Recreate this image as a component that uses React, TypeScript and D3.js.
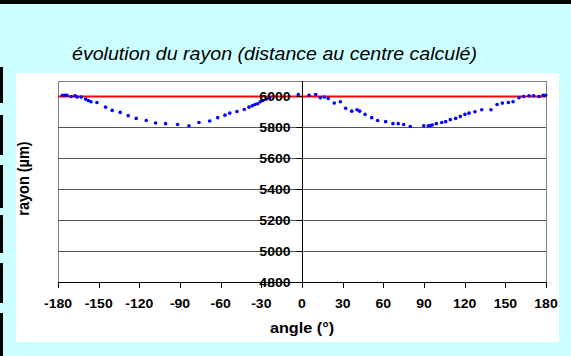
import React from "react";
import * as d3 from "d3";

const title = "évolution du rayon (distance au centre calculé)";
const xTitle = "angle (°)";
const yTitle = "rayon (µm)";

const xTicks = [-180, -150, -120, -90, -60, -30, 0, 30, 60, 90, 120, 150, 180];
const yTicks = [4800, 5000, 5200, 5400, 5600, 5800, 6000];
const reference = 6000;

const angles = [
  -176.8, -174.8, -173.4, -170.3, -167.4, -165.9, -162.9, -159.6, -157.7, -155.7,
  -151.3, -144.9, -140.0, -134.1, -128.2, -122.3, -114.9, -108.0, -100.6, -91.8,
  -83.4, -76.0, -68.1, -62.2, -56.8, -53.3, -48.0, -42.6, -39.1, -36.7,
  -34.7, -32.7, -30.8, -28.8, -26.3, -23.8, -2.7,
  5.2, 10.1, 13.5, 16.5, 19.4, 23.8, 28.3, 32.2, 36.7, 40.6, 42.6, 46.5, 51.4,
  55.8, 61.7, 67.1, 71.0, 75.0, 79.9, 89.8, 93.2, 94.6, 96.1, 99.1, 103.1,
  106.0, 109.4, 113.4, 116.8, 120.2, 123.2, 127.6, 132.6, 139.4, 143.9, 147.8,
  152.2, 155.7, 160.1, 163.5, 167.5, 170.9, 174.8, 177.8, 179.7,
];
const radii = [
  6008, 6008, 6008, 6000, 6005, 5996, 5996, 5983, 5974, 5966,
  5961, 5931, 5910, 5897, 5876, 5858, 5845, 5828, 5824, 5819,
  5811, 5832, 5841, 5863, 5879, 5892, 5903, 5916, 5931, 5940,
  5948, 5953, 5966, 5974, 5983, 5992, 6013,
  6008, 6013, 5992, 5996, 5987, 5957, 5966, 5923, 5905, 5914, 5905, 5884, 5863,
  5845, 5837, 5824, 5824, 5819, 5806, 5811, 5811, 5811, 5815, 5824, 5832,
  5837, 5850, 5858, 5871, 5884, 5892, 5901, 5914, 5914, 5948, 5957,
  5961, 5966, 5992, 6000, 6005, 6005, 6000, 6008, 6008,
];

const W = 571;
const H = 356;
const left = 58, right = 546, top = 81, bottom = 282;
const SX = 1.12;
const font = "'Liberation Sans', Arial, sans-serif";

export default function App() {
  const x = d3.scaleLinear().domain([-180, 180]).range([left, right]);
  const y = d3.scaleLinear().domain([4800, 6100]).range([bottom, top]);
  const x0 = Math.round(x(0)) + 0.5;
  const blackBars = [[67, 103], [115, 155], [165, 208], [215, 253], [263, 303], [313, 356]];
  return (
    <svg width={W} height={H} style={{ position: "absolute", left: 0, top: 0, display: "block" }} fontFamily={font}>
      <rect x={0} y={0} width={W} height={H} fill="#CCFFFF" />
      <rect x={0} y={0} width={W} height={4} fill="#000" />
      {blackBars.map(([a, b], i) => (
        <rect key={i} x={0} y={a} width={3} height={b - a} fill="#000" />
      ))}
      <rect x={16} y={73} width={543} height={269} fill="#fff" />
      <text
        transform={`translate(274.5,59.5) scale(${SX},1)`}
        textAnchor="middle"
        fontStyle="italic"
        fontSize={17.5}
        fill="#000"
      >
        {title}
      </text>
      {/* plot border */}
      <rect x={left + 0.5} y={top + 0.5} width={right - left} height={bottom - top} fill="none" stroke="#808080" strokeWidth={1} />
      {/* gridlines */}
      {yTicks.map((t) => (
        <line key={t} x1={left} x2={right} y1={Math.round(y(t)) + 0.5} y2={Math.round(y(t)) + 0.5} stroke="#555" strokeWidth={1} />
      ))}
      {/* reference line */}
      <line x1={x(-180)} x2={x(180)} y1={y(reference)} y2={y(reference)} stroke="#FF0000" strokeWidth={2} />
      {/* y axis at 0 */}
      <line x1={x0} x2={x0} y1={top} y2={bottom} stroke="#000" strokeWidth={1} />
      {yTicks.map((t) => (
        <line key={"yt" + t} x1={x0 - 6} x2={x0} y1={Math.round(y(t)) + 0.5} y2={Math.round(y(t)) + 0.5} stroke="#000" />
      ))}
      {/* x axis */}
      <line x1={left} x2={right + 1} y1={Math.round(y(4800)) + 0.5} y2={Math.round(y(4800)) + 0.5} stroke="#000" />
      {xTicks.map((t) => (
        <line key={"xt" + t} x1={Math.round(x(t)) + 0.5} x2={Math.round(x(t)) + 0.5} y1={bottom} y2={bottom + 6} stroke="#000" />
      ))}
      {/* data points */}
      {angles.map((a, i) => (
        <circle key={"p" + i} cx={x(a)} cy={y(radii[i])} r={1.8} fill="#0000FF" />
      ))}
      {/* y tick labels */}
      {yTicks.map((t) => (
        <text
          key={"yl" + t}
          transform={`translate(${x0 - 12},${y(t) + 4.8}) scale(${SX},1)`}
          textAnchor="end"
          fontWeight="bold"
          fontSize={12.5}
          fill="#000"
        >
          {t}
        </text>
      ))}
      {/* x tick labels */}
      {xTicks.map((t) => (
        <text
          key={"xl" + t}
          transform={`translate(${x(t)},308) scale(${SX},1)`}
          textAnchor="middle"
          fontWeight="bold"
          fontSize={12.5}
          fill="#000"
        >
          {t}
        </text>
      ))}
      <text
        transform={`translate(${x(0)},333) scale(${SX},1)`}
        textAnchor="middle"
        fontWeight="bold"
        fontSize={14.5}
        fill="#000"
      >
        {xTitle}
      </text>
      <text
        transform={`translate(29,${(top + bottom) / 2 - 3}) scale(${SX},1) rotate(-90)`}
        textAnchor="middle"
        fontWeight="bold"
        fontSize={14.5}
        fill="#000"
      >
        {yTitle}
      </text>
    </svg>
  );
}
